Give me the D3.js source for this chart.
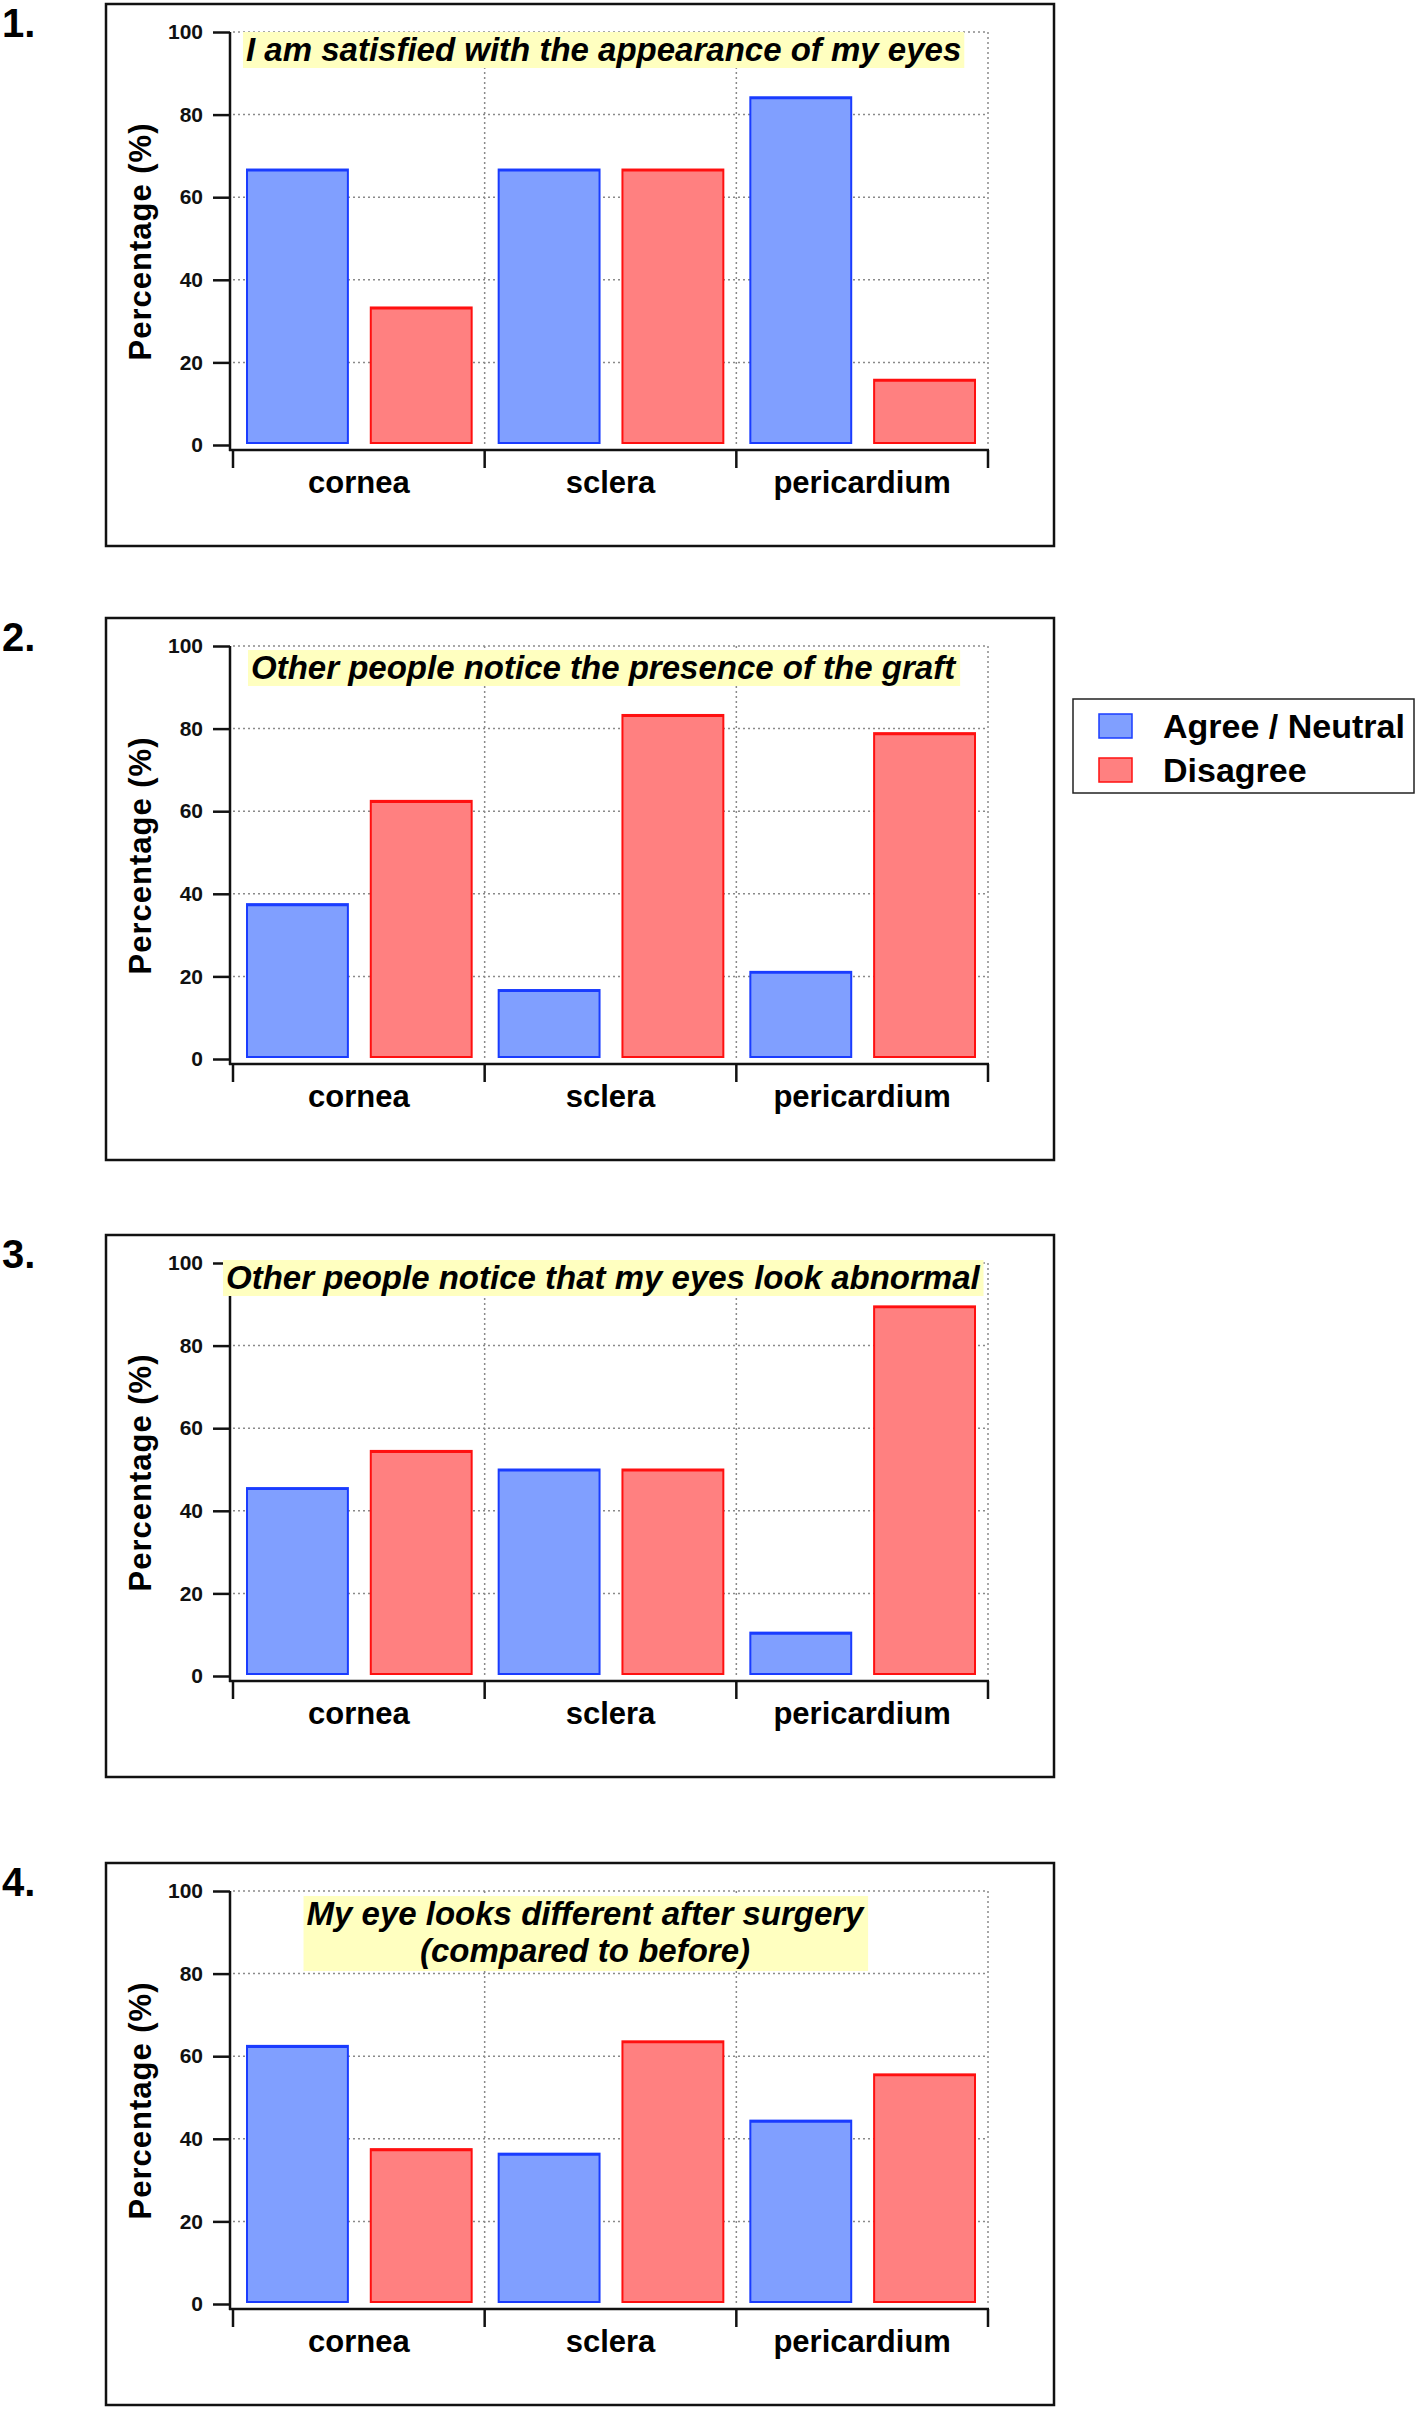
<!DOCTYPE html>
<html>
<head>
  <meta charset="utf-8">
  <title>Graft appearance survey</title>
  <script src="https://d3js.org/d3.v7.min.js"></script>
  <style>
    body { margin: 0; background: #fff; }
    text { font-family: "Liberation Sans", Arial, sans-serif; font-weight: bold; }
  </style>
</head>
<body>
<svg></svg>
<script>

// chart data
var categories = ["cornea", "sclera", "pericardium"];
var seriesNames = ["Agree / Neutral", "Disagree"];
var panelLabels = ["1.", "2.", "3.", "4."];
var questions = [
  ["I am satisfied with the appearance of my eyes"],
  ["Other people notice the presence of the graft"],
  ["Other people notice that my eyes look abnormal"],
  ["My eye looks different after surgery", "(compared to before)"]
];
var agreeValues = [
  [66.7, 66.7, 84.2],
  [37.5, 16.7, 21.1],
  [45.5, 50.0, 10.5],
  [62.5, 36.4, 44.4]
];
var disagreeValues = [
  [33.3, 66.7, 15.8],
  [62.5, 83.3, 78.9],
  [54.5, 50.0, 89.5],
  [37.5, 63.6, 55.6]
];
var yTicks = [0, 20, 40, 60, 80, 100];

// layout
var W = 1418, H = 2409;
var panelTops = [4, 618, 1235, 1863];
var box = {left: 106, right: 1054, height: 542};
var plot = {left: 233, right: 988, top: 28, bottom: 441, axisX: 230};
// title placement: x, box top, anchor
var titlePos = [
  {x: 246, y: 28, anchor: "start"},
  {x: 251, y: 32, anchor: "start"},
  {x: 226, y: 25, anchor: "start"},
  {x: 585, y: 33, anchor: "middle"}
];
var colors = {
  fill: ["#809fff", "#ff8080"],
  stroke: ["#1a3cff", "#ff1010"]
};

var svg = d3.select("svg").attr("width", W).attr("height", H);

var x0 = d3.scaleBand().domain(categories).range([plot.left, plot.right]).padding(0);
var x1 = d3.scaleBand().domain(seriesNames).range([14, x0.bandwidth() - 13]).paddingInner(0.185);
var y = d3.scaleLinear().domain([0, 100]).range([plot.bottom, plot.top]);

panelTops.forEach(function(top, p) {
  var g = svg.append("g").attr("transform", "translate(0," + top + ")");

  // panel frame
  g.append("rect")
      .attr("x", box.left).attr("y", 0)
      .attr("width", box.right - box.left).attr("height", box.height)
      .attr("fill", "none").attr("stroke", "#111").attr("stroke-width", 2.5);

  g.append("text")
      .attr("x", 2).attr("y", 33)
      .style("font-size", "40px")
      .text(panelLabels[p]);

  // dotted grid
  g.append("g").selectAll("line").data(yTicks.slice(1)).join("line")
      .attr("x1", plot.left).attr("x2", plot.right)
      .attr("y1", function(d) { return y(d); }).attr("y2", function(d) { return y(d); })
      .attr("stroke", "#8a8a8a").attr("stroke-width", 1.5).attr("stroke-dasharray", "2,3");
  g.append("g").selectAll("line").data(categories.slice(1).concat(["end"])).join("line")
      .attr("x1", function(d) { return d == "end" ? plot.right : x0(d); })
      .attr("x2", function(d) { return d == "end" ? plot.right : x0(d); })
      .attr("y1", y(100)).attr("y2", y(0))
      .attr("stroke", "#8a8a8a").attr("stroke-width", 1.5).attr("stroke-dasharray", "2,3");

  // bars
  var rows = categories.map(function(c, i) {
    return {cat: c, vals: [agreeValues[p][i], disagreeValues[p][i]]};
  });
  var bar = g.append("g").selectAll("g").data(rows).join("g")
      .attr("transform", function(d) { return "translate(" + x0(d.cat) + ",0)"; })
    .selectAll("g")
    .data(function(d) { return d.vals.map(function(v, k) { return {k: k, v: v}; }); })
    .join("g");
  bar.append("rect")
      .attr("x", function(d) { return x1(seriesNames[d.k]); })
      .attr("width", x1.bandwidth())
      .attr("y", function(d) { return y(d.v); })
      .attr("height", function(d) { return y(0) - 2 - y(d.v); })
      .attr("fill", function(d) { return colors.fill[d.k]; })
      .attr("stroke", function(d) { return colors.stroke[d.k]; })
      .attr("stroke-width", 2);
  // heavier top edge, as in the original
  bar.append("line")
      .attr("x1", function(d) { return x1(seriesNames[d.k]); })
      .attr("x2", function(d) { return x1(seriesNames[d.k]) + x1.bandwidth(); })
      .attr("y1", function(d) { return y(d.v) + 1; })
      .attr("y2", function(d) { return y(d.v) + 1; })
      .attr("stroke", function(d) { return colors.stroke[d.k]; })
      .attr("stroke-width", 2);

  // y axis
  var yAxis = g.append("g")
      .attr("transform", "translate(" + plot.axisX + ",0)")
      .call(d3.axisLeft(y).tickValues(yTicks).tickSize(17).tickPadding(10));
  yAxis.select(".domain").attr("stroke", "#111").attr("stroke-width", 2.5)
      .attr("d", "M0," + y(100) + "V" + (y(0) + 6));
  yAxis.selectAll(".tick line").attr("stroke", "#111").attr("stroke-width", 2.5);
  yAxis.selectAll(".tick text").style("font-size", "21px").attr("fill", "#111")
      .style("font-family", "'Liberation Sans', Arial, sans-serif").style("font-weight", "bold");

  // x axis with ticks at category boundaries
  var xAxisG = g.append("g").attr("transform", "translate(0," + (y(0) + 5) + ")");
  xAxisG.append("line")
      .attr("x1", plot.axisX - 1).attr("x2", plot.right + 1)
      .attr("stroke", "#111").attr("stroke-width", 2.5);
  xAxisG.selectAll(".bt").data(categories.concat(["end"])).join("line")
      .attr("class", "bt")
      .attr("x1", function(d) { return d == "end" ? plot.right : x0(d); })
      .attr("x2", function(d) { return d == "end" ? plot.right : x0(d); })
      .attr("y1", 0).attr("y2", 18)
      .attr("stroke", "#111").attr("stroke-width", 2.5);
  xAxisG.selectAll(".cl").data(categories).join("text")
      .attr("class", "cl")
      .attr("x", function(d) { return x0(d) + x0.bandwidth() / 2; })
      .attr("y", 43)
      .attr("text-anchor", "middle")
      .style("font-size", "31px")
      .text(function(d) { return d; });

  // y axis title
  g.append("text")
      .attr("transform", "translate(151," + ((y(0) + y(100)) / 2 + 3) + ") rotate(-90)")
      .attr("text-anchor", "middle")
      .style("font-size", "31px")
      .style("letter-spacing", "1px")
      .text("Percentage (%)");

  // question title with yellow highlight
  var tp = titlePos[p];
  var tg = g.append("g");
  var bg = tg.append("rect").attr("fill", "#ffffc0");
  var tt = tg.append("text")
      .attr("text-anchor", tp.anchor)
      .style("font-size", "33px")
      .style("font-style", "italic");
  questions[p].forEach(function(line, i) {
    tt.append("tspan").attr("x", tp.x).attr("y", tp.y + 29 + i * 37).text(line);
  });
  var bb = tt.node().getBBox();
  bg.attr("x", bb.x - 3).attr("y", tp.y)
    .attr("width", bb.width + 6)
    .attr("height", 36 + (questions[p].length - 1) * 39);
});

// legend
var legend = svg.append("g");
legend.append("rect")
    .attr("x", 1073).attr("y", 699).attr("width", 341).attr("height", 94)
    .attr("fill", "#fff").attr("stroke", "#222").attr("stroke-width", 1.5);
seriesNames.forEach(function(s, i) {
  legend.append("rect")
      .attr("x", 1099).attr("y", 714 + i * 44).attr("width", 33).attr("height", 24)
      .attr("fill", colors.fill[i]).attr("stroke", colors.stroke[i]).attr("stroke-width", 1.5);
  legend.append("text")
      .attr("x", 1163).attr("y", 738 + i * 44)
      .style("font-size", "34px")
      .text(s);
});

</script>
</body>
</html>
